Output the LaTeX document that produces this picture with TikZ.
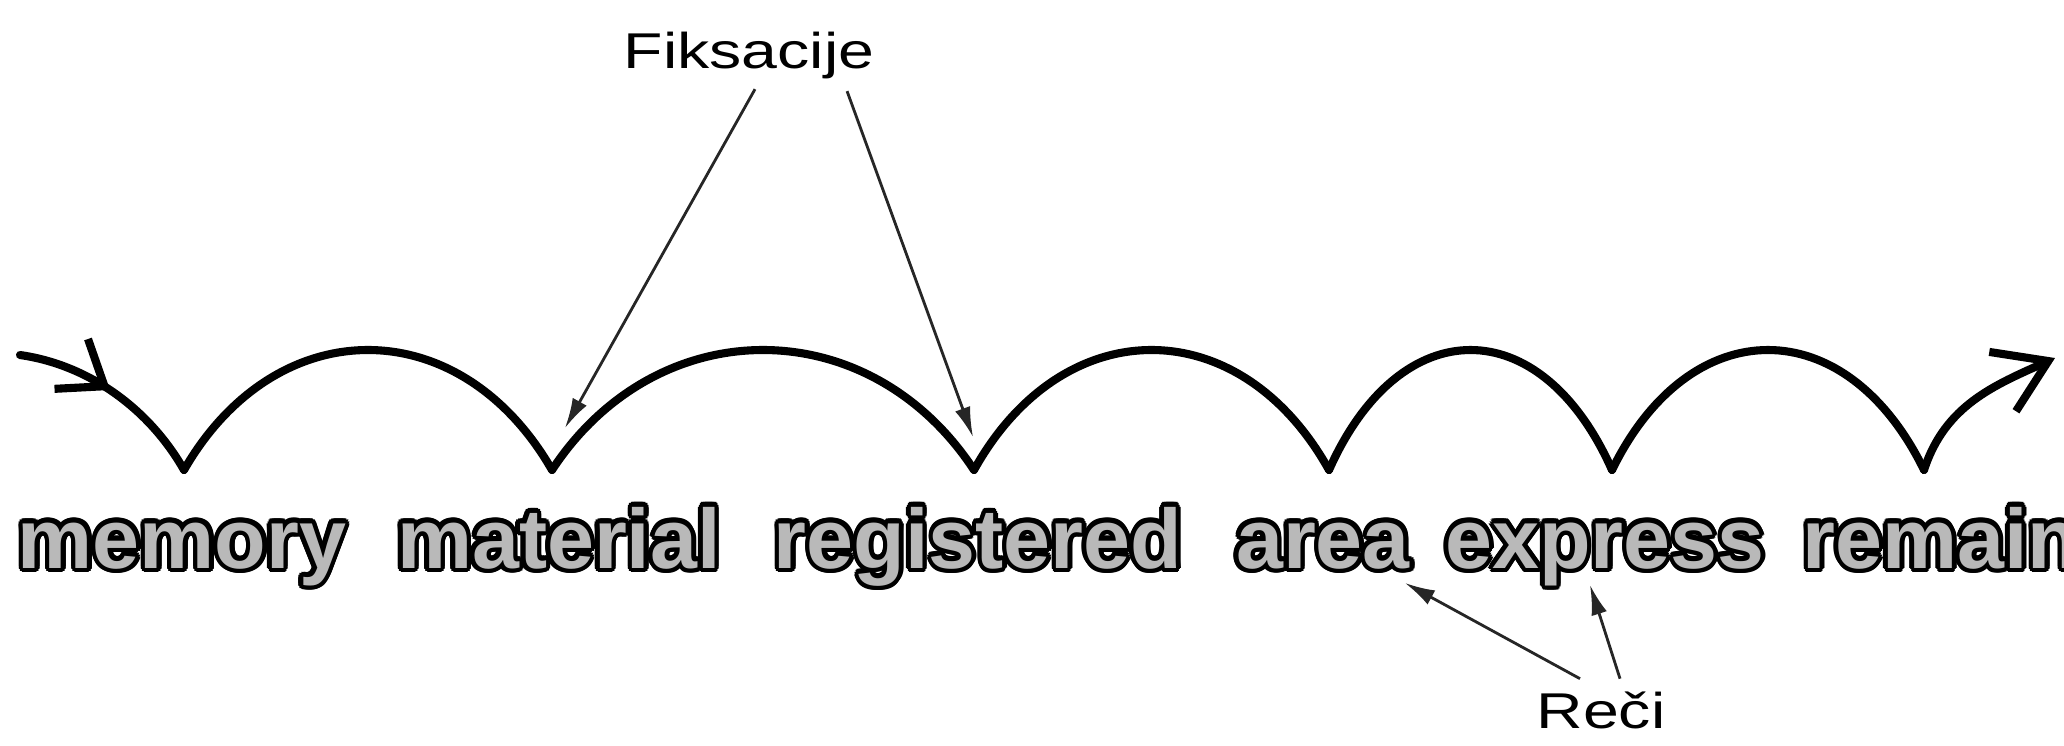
\documentclass[tikz,border=0pt]{standalone}
\usepackage{fontspec}
\setmainfont{Liberation Sans}
\newfontfamily\labelfont[FakeStretch=1.28]{Liberation Sans}
\usepackage{contour}
\contourlength{1.3pt}
\usetikzlibrary{arrows.meta,decorations.markings}

\newcommand{\blurword}[1]{{\color{gray!55}\contour{black}{#1}}}

\begin{document}
\begin{tikzpicture}[
    x=0.01cm, y=-0.01cm,
    jump/.style={line width=2.3pt, line cap=round, line join=round},
    ptr/.style={-{Latex[length=3mm,width=1.6mm]}, line width=0.8pt, black!85},
    word/.style={anchor=base, inner sep=0pt, font=\fontsize{24}{24}\selectfont\bfseries},
    lbl/.style={anchor=base, inner sep=0pt, font=\labelfont\fontsize{14.3}{16}\selectfont}
  ]
    \useasboundingbox (0,0) rectangle (2064,745);

    \node[lbl] (fix) at (749,68) {Fiksacije};
    \node[lbl] (reci) at (1601,728) {Reči};

    \node[word] (w1) at (182,568) {\blurword{memory}};
    \node[word] (w2) at (559,568) {\blurword{material}};
    \node[word] (w3) at (978,568) {\blurword{registered}};
    \node[word] (w4) at (1323,568) {\blurword{area}};
    \node[word] (w5) at (1605,568) {\blurword{express}};
    \node[word, anchor=base west] (w6) at (1802,568) {\blurword{remain}};

    \coordinate (in) at (20,355);
    \coordinate (v1) at (184,470);
    \coordinate (v2) at (552,470);
    \coordinate (v3) at (974,470);
    \coordinate (v4) at (1329,470);
    \coordinate (v5) at (1612,470);
    \coordinate (v6) at (1924,470);
    \coordinate (out) at (2055,358);
    \coordinate (f1) at (565,428);
    \coordinate (f2) at (973,437);
    \coordinate (r1) at (1405,583);
    \coordinate (r2) at (1590,585);

    \draw[jump, postaction=decorate, decoration={markings,
      mark=at position 0.47 with {\arrow{Straight Barb[length=4mm,width=6mm]}}}]
      (in) .. controls (90,365) and (150,410) .. (v1);
    \foreach \a/\b/\d in {v1/v2/92, v2/v3/105, v3/v4/89, v4/v5/71, v5/v6/78}
      \draw[jump] (\a) .. controls +(\d,-160) and +(-\d,-160) .. (\b);
    \draw[jump, -{Straight Barb[length=5mm,width=6.5mm]}]
      (v6) .. controls (1945,405) and (1995,385) .. (out);

    \draw[ptr] ([xshift=0.06cm,yshift=-0.1cm]fix.south) -- (f1);
    \draw[ptr] ([xshift=0.98cm,yshift=-0.12cm]fix.south) -- (f2);
    \draw[ptr] ([xshift=-0.21cm,yshift=0.12cm]reci.north) -- (r1);
    \draw[ptr] ([xshift=0.19cm,yshift=0.12cm]reci.north) -- (r2);
  \end{tikzpicture}
\end{document}
